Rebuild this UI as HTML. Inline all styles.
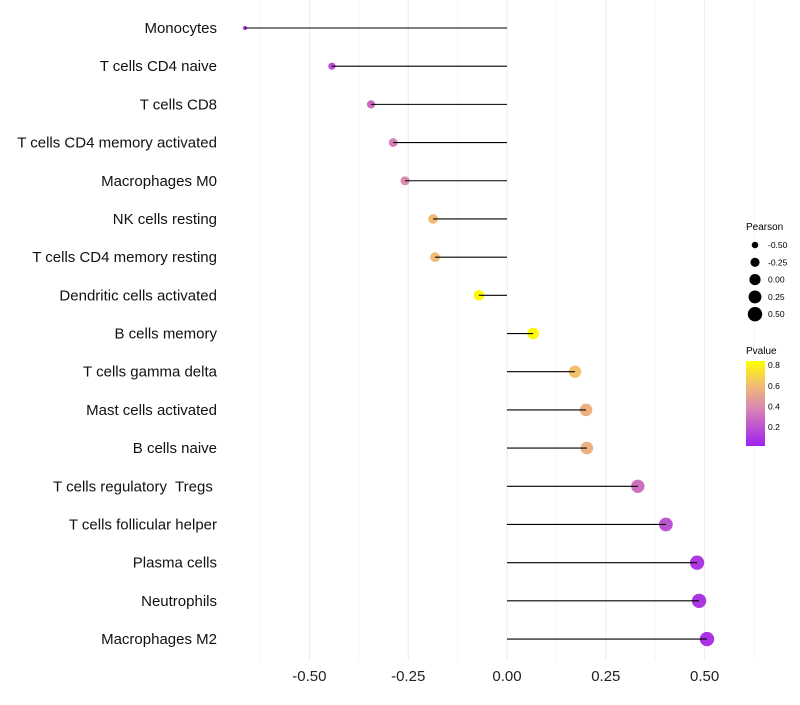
<!DOCTYPE html>
<html><head><meta charset="utf-8"><style>
body{margin:0;background:#fff;font-family:"Liberation Sans",sans-serif}
</style></head><body>
<svg id="c" width="800" height="700">
<defs><linearGradient id="pg" x1="0" y1="1" x2="0" y2="0">
<stop offset="0" stop-color="#A020F0"/><stop offset="0.45" stop-color="#DA88B0"/><stop offset="0.7" stop-color="#F0B878"/><stop offset="1" stop-color="#FFFF00"/></linearGradient></defs>
<g id="grid"></g><g id="points"></g><g id="stems"></g><g id="labels"></g>
<g font-size="9">
<text x="746" y="230" font-size="10">Pearson</text>
<g id="sizeLeg"></g>
<text x="746" y="354" font-size="10">Pvalue</text>
<rect x="746" y="361" width="19" height="85" fill="url(#pg)"/>
<g id="colLeg"></g>
</g>
</svg>
<script>
const categories=["Monocytes","T cells CD4 naive","T cells CD8","T cells CD4 memory activated","Macrophages M0","NK cells resting","T cells CD4 memory resting","Dendritic cells activated","B cells memory","T cells gamma delta","Mast cells activated","B cells naive","T cells regulatory  Tregs ","T cells follicular helper","Plasma cells","Neutrophils","Macrophages M2"];
const pearson=[-0.663,-0.443,-0.344,-0.288,-0.258,-0.187,-0.182,-0.071,0.066,0.172,0.2,0.202,0.331,0.402,0.481,0.486,0.506];
const pvalue=[0.05,0.18,0.28,0.36,0.4,0.6,0.6,0.82,0.82,0.62,0.56,0.56,0.3,0.2,0.1,0.09,0.08];
const xTicks=[-0.5,-0.25,0,0.25,0.5];
const xTickLabels=["-0.50","-0.25","0.00","0.25","0.50"];
const sizeLegVals=[-0.5,-0.25,0,0.25,0.5];
const colLegVals=[0.2,0.4,0.6,0.8];
const NS="http://www.w3.org/2000/svg";
const X=v=>507+v*395.2, Y=i=>28+i*38.19;
const R=v=>Math.sqrt(4+(v+0.663)/1.17*48);
const PY=p=>446-(p-0.016)*103;
function col(p){const t=Math.max(0,Math.min(1,(p-0.016)/0.824));
const st=[[0,[160,32,240]],[0.45,[218,136,176]],[0.7,[240,184,120]],[1,[255,255,0]]];
for(let k=1;k<st.length;k++){if(t<=st[k][0]){const a=st[k-1],b=st[k],f=(t-a[0])/(b[0]-a[0]);return `rgb(${a[1].map((c,j)=>Math.round(c+(b[1][j]-c)*f)).join(',')})`;}}return 'rgb(255,255,0)';}
function el(t,a,p){const e=document.createElementNS(NS,t);for(const k in a)e.setAttribute(k,a[k]);p.appendChild(e);return e;}
const grid=document.getElementById('grid'),points=document.getElementById('points'),stems=document.getElementById('stems'),labels=document.getElementById('labels');
for(let v=-0.625;v<=0.626;v+=0.125){const l=el('line',{x1:X(v),x2:X(v),y1:0,y2:660,stroke:Math.abs(v*4-Math.round(v*4))<1e-6?'#ebebeb':'#f4f4f4','stroke-width':1},grid);

}
xTicks.forEach((v,i)=>{const t=el('text',{x:X(v),y:681,'text-anchor':'middle','font-size':15,fill:'#222'},labels);t.textContent=xTickLabels[i];

});
categories.forEach((c,i)=>{const t=el('text',{x:217,y:Y(i)+5,'text-anchor':'end','font-size':15,fill:'#111','xml:space':'preserve'},labels);t.textContent=c;
t.style.whiteSpace='pre';


const d=el('circle',{cx:X(pearson[i]),cy:Y(i),r:R(pearson[i]),fill:col(pvalue[i])},points);


const ln=el('line',{x1:X(0),x2:X(pearson[i]),y1:Y(i),y2:Y(i),stroke:'#000','stroke-width':1.1},stems);

});
const sl=document.getElementById('sizeLeg');
sizeLegVals.forEach((v,i)=>{const y=245+i*17.3;const c=el('circle',{cx:755,cy:y,r:R(v),fill:'#000'},sl);


const t=el('text',{x:768,y:y+3,'font-size':8.5},sl);t.textContent=v.toFixed(2);

});
const cl=document.getElementById('colLeg');
colLegVals.forEach(v=>{const t=el('text',{x:768,y:PY(v)+3,'font-size':8.5},cl);t.textContent=v.toFixed(1);

});
</script>
</body></html>
